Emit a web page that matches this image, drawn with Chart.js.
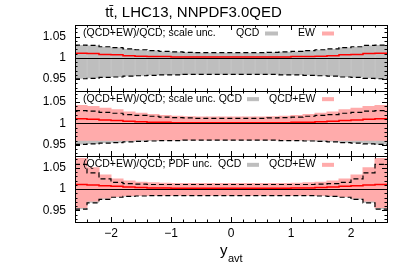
<!DOCTYPE html>
<html>
<head>
<meta charset="utf-8">
<script src="https://cdn.jsdelivr.net/npm/chart.js@4.4.0/dist/chart.umd.min.js"></script>
<style>
  html, body { margin: 0; padding: 0; background: #fff; }
  #wrap { width: 413px; height: 275px; }
</style>
</head>
<body>
<div id="wrap"><canvas id="ratioChart" width="413" height="275"></canvas></div>
<script>
// bins in y_avt
const binEdges = [-2.6, -2.4, -2.2, -2.0, -1.8, -1.6, -1.4, -1.2, -1.0, -0.8, -0.6, -0.4, -0.2, 0.0,
                  0.2, 0.4, 0.6, 0.8, 1.0, 1.2, 1.4, 1.6, 1.8, 2.0, 2.2, 2.4, 2.6];
const binCenters = [-2.5, -2.3, -2.1, -1.9, -1.7, -1.5, -1.3, -1.1, -0.9, -0.7, -0.5, -0.3, -0.1,
                    0.1, 0.3, 0.5, 0.7, 0.9, 1.1, 1.3, 1.5, 1.7, 1.9, 2.1, 2.3, 2.5];

// (QCD+EW)/QCD central ratio
const ewRatio = [1.011, 1.010, 1.008, 1.007, 1.005, 1.004, 1.003, 1.003, 1.002, 1.002, 1.002, 1.002, 1.002,
                 1.002, 1.002, 1.002, 1.002, 1.002, 1.003, 1.003, 1.004, 1.005, 1.007, 1.008, 1.010, 1.011];

// scale uncertainty bands
const scaleQcdUp = [1.030, 1.029, 1.026, 1.024, 1.021, 1.019, 1.017, 1.015, 1.014, 1.013, 1.012, 1.012, 1.012,
                    1.012, 1.012, 1.012, 1.013, 1.014, 1.015, 1.017, 1.019, 1.021, 1.024, 1.026, 1.029, 1.030];
const scaleQcdDn = [0.951, 0.952, 0.954, 0.955, 0.957, 0.958, 0.959, 0.960, 0.960, 0.961, 0.961, 0.961, 0.961,
                    0.961, 0.961, 0.961, 0.961, 0.960, 0.960, 0.959, 0.958, 0.957, 0.955, 0.954, 0.952, 0.951];
const scaleEwUp = [1.042, 1.040, 1.036, 1.032, 1.027, 1.024, 1.021, 1.019, 1.017, 1.016, 1.015, 1.015, 1.015,
                   1.015, 1.015, 1.015, 1.016, 1.017, 1.019, 1.021, 1.024, 1.027, 1.032, 1.036, 1.040, 1.042];
const scaleEwDn = [0.961, 0.961, 0.961, 0.961, 0.961, 0.962, 0.962, 0.962, 0.962, 0.962, 0.962, 0.962, 0.962,
                   0.962, 0.962, 0.962, 0.962, 0.962, 0.962, 0.962, 0.962, 0.961, 0.961, 0.961, 0.961, 0.961];

// PDF uncertainty bands
const pdfQcdUp = [1.058, 1.038, 1.024, 1.016, 1.013, 1.012, 1.011, 1.011, 1.011, 1.011, 1.011, 1.011, 1.011,
                  1.011, 1.011, 1.011, 1.011, 1.011, 1.011, 1.011, 1.012, 1.013, 1.016, 1.024, 1.038, 1.058];
const pdfQcdDn = [0.953, 0.968, 0.976, 0.981, 0.983, 0.984, 0.985, 0.985, 0.985, 0.985, 0.985, 0.985, 0.985,
                  0.985, 0.985, 0.985, 0.985, 0.985, 0.985, 0.985, 0.984, 0.983, 0.981, 0.976, 0.968, 0.953];
const pdfEwUp = [1.072, 1.050, 1.033, 1.024, 1.019, 1.016, 1.015, 1.014, 1.013, 1.013, 1.013, 1.013, 1.013,
                 1.013, 1.013, 1.013, 1.013, 1.013, 1.014, 1.015, 1.016, 1.019, 1.024, 1.033, 1.050, 1.072];
const pdfEwDn = [0.957, 0.972, 0.979, 0.983, 0.985, 0.986, 0.986, 0.986, 0.986, 0.986, 0.986, 0.986, 0.986,
                 0.986, 0.986, 0.986, 0.986, 0.986, 0.986, 0.986, 0.986, 0.985, 0.983, 0.979, 0.972, 0.957];

const xTicks = [-2, -1, 0, 1, 2];
const xTickLabels = ['\u22122', '\u22121', '0', '1', '2'];
const yTicks = [0.95, 1, 1.05];
const yTickLabels = ['0.95', '1', '1.05'];

const FONT = "'Liberation Sans', Arial, sans-serif";
const GREY = '#bebebe';
const PINK = '#ffabab';

function band(lo, hi, color, yAxisID, order, edge) {
    return {
        type: 'bar',
        data: binCenters.map((x, i) => ({ x: x, y: [lo[i], hi[i]] })),
        backgroundColor: color,
        borderColor: edge || color,
        borderWidth: edge ? { left: 1, right: 0, top: 0, bottom: 0 } : 0,
        borderSkipped: false,
        inflateAmount: 0.5,
        grouped: false,
        barPercentage: 1,
        categoryPercentage: 1,
        yAxisID: yAxisID,
        order: order
    };
}

function steps(vals, color, width, dash, yAxisID, order) {
    return {
        type: 'line',
        data: binEdges.map((x, i) => ({ x: x, y: vals[Math.min(i, vals.length - 1)] })),
        stepped: 'before',
        borderColor: color,
        borderWidth: width,
        borderDash: dash,
        pointRadius: 0,
        fill: false,
        yAxisID: yAxisID,
        order: order
    };
}

function panelAxis() {
    return {
        type: 'linear',
        position: 'left',
        stack: 'panels',
        stackWeight: 1,
        min: 0.923,
        max: 1.077,
        afterBuildTicks: s => { s.ticks = yTicks.map(v => ({ value: v })); },
        afterFit: s => { s.width = 75; },
        ticks: {
            callback: v => yTickLabels[yTicks.indexOf(v)],
            font: { family: FONT, size: 12 },
            color: '#000',
            padding: 9
        },
        grid: { display: false, drawTicks: false },
        border: { display: false }
    };
}

// frame, inward ticks, unity line and in-panel keys
const panelDecor = {
    id: 'panelDecor',
    afterDatasetsDraw(chart) {
        const ctx = chart.ctx;
        const xs = chart.scales.x;
        const left = Math.round(chart.chartArea.left);
        const right = Math.round(chart.chartArea.right);
        const keys = {
            y1: { text: '(QCD+EW)/QCD; scale unc.', items: [['QCD', 236, GREY, 265, 278], ['EW', 298, PINK, 322, 334]] },
            y2: { text: '(QCD+EW)/QCD; scale unc. QCD', items: [['', 0, GREY, 247, 259], ['QCD+EW', 269, PINK, 322, 334]] },
            y3: { text: '(QCD+EW)/QCD; PDF unc.', items: [['QCD', 218, GREY, 247, 259], ['QCD+EW', 269, PINK, 322, 334]] }
        };

        ['y1', 'y2', 'y3'].forEach(id => {
            const ys = chart.scales[id];
            const top = Math.round(ys.top), bottom = Math.round(ys.bottom);
            ctx.save();
            ctx.strokeStyle = '#000';
            ctx.lineWidth = 1;

            // unity line
            const u = Math.round(ys.getPixelForValue(1)) + 0.5;
            ctx.beginPath();
            ctx.moveTo(left, u);
            ctx.lineTo(right, u);
            ctx.stroke();

            ctx.beginPath();
            // x ticks, top and bottom edge
            for (let k = -12; k <= 12; k++) {
                const v = k * 0.2;
                const px = Math.round(xs.getPixelForValue(v)) + 0.5;
                const len = (k % 5 === 0) ? 5 : 2.5;
                ctx.moveTo(px, bottom); ctx.lineTo(px, bottom - len);
                ctx.moveTo(px, top); ctx.lineTo(px, top + len);
            }
            // y ticks, left and right edge
            for (let k = 93; k <= 107; k++) {
                const v = k / 100;
                const py = Math.round(ys.getPixelForValue(v)) + 0.5;
                const len = (k % 5 === 0) ? 5 : 2.5;
                ctx.moveTo(left, py); ctx.lineTo(left + len, py);
                ctx.moveTo(right, py); ctx.lineTo(right - len, py);
            }
            ctx.stroke();

            ctx.strokeRect(left + 0.5, top + 0.5, right - left, bottom - top);

            // key
            const k = keys[id];
            ctx.fillStyle = '#000';
            ctx.font = '10.5px ' + FONT;
            ctx.textBaseline = 'alphabetic';
            ctx.fillText(k.text, 83, ys.top + 11);
            k.items.forEach(it => {
                ctx.fillStyle = '#000';
                if (it[0]) ctx.fillText(it[0], it[1], ys.top + 11);
                ctx.fillStyle = it[2];
                ctx.fillRect(it[3], ys.top + 6.5, it[4] - it[3], 4);
            });
            ctx.restore();
        });

        // x axis title with subscript
        ctx.save();
        ctx.fillStyle = '#000';
        ctx.font = '15px ' + FONT;
        ctx.fillText('y', 220, 255);
        ctx.font = '11px ' + FONT;
        ctx.fillText('avt', 228, 261.5);
        ctx.restore();
    }
};

document.addEventListener('DOMContentLoaded', () => {
    const ctx = document.getElementById('ratioChart').getContext('2d');

    new Chart(ctx, {
        type: 'bar',
        data: {
            datasets: [
                // top panel: scale unc.
                band(scaleQcdDn, scaleQcdUp, GREY, 'y1', 6, '#c9c9c9'),
                steps(scaleQcdUp, '#000', 1.2, [5, 3], 'y1', 2),
                steps(scaleQcdDn, '#000', 1.2, [5, 3], 'y1', 2),
                steps(ewRatio, '#ff0000', 1.5, [], 'y1', 1),
                // middle panel: scale unc., QCD vs QCD+EW
                band(scaleQcdDn, scaleQcdUp, GREY, 'y2', 6, '#c9c9c9'),
                band(scaleEwDn, scaleEwUp, PINK, 'y2', 5),
                steps(scaleQcdUp, '#000', 1.2, [5, 3], 'y2', 2),
                steps(scaleQcdDn, '#000', 1.2, [5, 3], 'y2', 2),
                steps(ewRatio, '#ff0000', 1.5, [], 'y2', 1),
                // bottom panel: PDF unc.
                band(pdfQcdDn, pdfQcdUp, GREY, 'y3', 6, '#c9c9c9'),
                band(pdfEwDn, pdfEwUp, PINK, 'y3', 5),
                steps(pdfQcdUp, '#000', 1.2, [5, 3], 'y3', 2),
                steps(pdfQcdDn, '#000', 1.2, [5, 3], 'y3', 2),
                steps(ewRatio, '#ff0000', 1.5, [], 'y3', 1)
            ]
        },
        options: {
            responsive: false,
            animation: false,
            layout: { padding: { left: 0, right: 26, top: 0, bottom: 0 } },
            plugins: {
                legend: { display: false },
                tooltip: { enabled: false },
                title: {
                    display: true,
                    text: 'tt\u0304, LHC13, NNPDF3.0QED',
                    color: '#000',
                    font: { family: FONT, size: 15, weight: 'normal' },
                    padding: { top: 4, bottom: 3 }
                }
            },
            scales: {
                x: {
                    type: 'linear',
                    offset: false,
                    min: -2.6,
                    max: 2.6,
                    afterBuildTicks: s => { s.ticks = xTicks.map(v => ({ value: v })); },
                    afterFit: s => { s.height = 53; },
                    ticks: {
                        callback: v => xTickLabels[xTicks.indexOf(v)],
                        font: { family: FONT, size: 12 },
                        color: '#000',
                        padding: 4,
                        maxRotation: 0,
                        autoSkip: false
                    },
                    grid: { display: false, drawTicks: false, offset: false },
                    border: { display: false }
                },
                y3: panelAxis(),
                y2: panelAxis(),
                y1: panelAxis()
            }
        },
        plugins: [panelDecor]
    });
});
</script>
</body>
</html>
